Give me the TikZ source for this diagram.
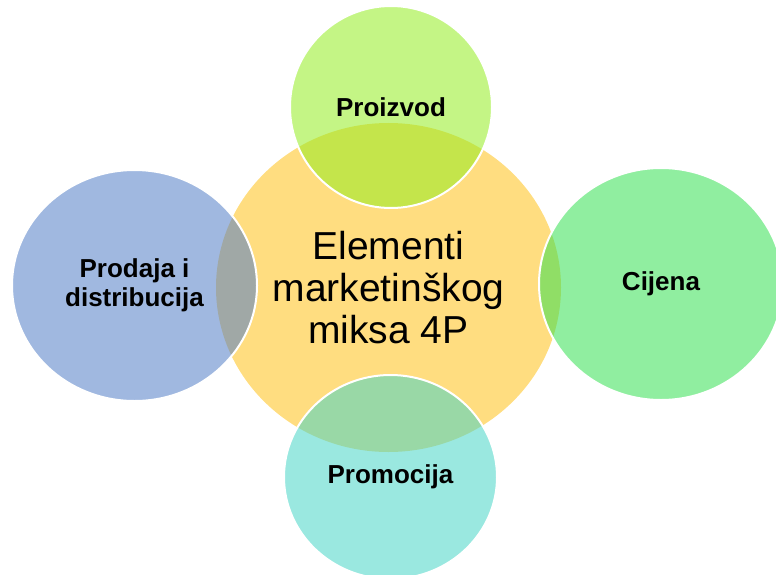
\documentclass[tikz,border=0pt]{standalone}
\usepackage{fontspec}
\setmainfont{Liberation Sans}
\usetikzlibrary{shapes.geometric}
\definecolor{cyellow}{RGB}{255,221,128}
\definecolor{ctop}{RGB}{148,237,33}
\definecolor{cright}{RGB}{53,224,82}
\definecolor{cleft}{RGB}{82,126,199}
\definecolor{cbottom}{RGB}{71,213,199}
\begin{document}
\begin{tikzpicture}[x=1pt,y=-1pt]
\tikzset{
  sat/.style={ellipse, inner sep=0pt, draw=white, line width=2pt,
    fill opacity=0.55, text opacity=1, text=black, align=center,
    font=\bfseries\fontsize{26}{29}\selectfont},
  hub/.style={ellipse, inner sep=0pt, fill=cyellow, align=center, text=black,
    font=\fontsize{39}{42}\selectfont}
}
\useasboundingbox (0,0) rectangle (776,575);
\node[hub, minimum width=345pt, minimum height=329pt] (mix) at (388.5,287.5) {Elementi\\marketinškog\\miksa 4P};
\node[sat, fill=ctop, minimum width=202pt, minimum height=202pt] (prod) at (391,107) {Proizvod};
\node[sat, fill=cright, minimum width=244pt, minimum height=232pt] (cij) at (661,284) {Cijena};
\node[sat, fill=cleft, minimum width=245pt, minimum height=231pt] (dist) at (134.5,285.5) {Prodaja i\\distribucija};
\node[sat, fill=cbottom, minimum width=213pt, minimum height=204pt] (prom) at (390.5,477) {Promocija};
\end{tikzpicture}
\end{document}
